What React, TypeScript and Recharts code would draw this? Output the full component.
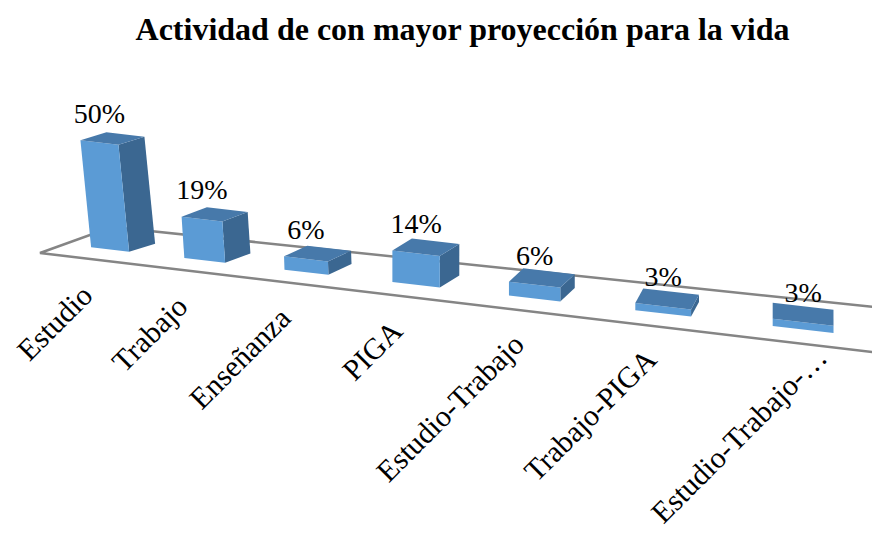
import React from 'react';
import { BarChart, Bar, XAxis, YAxis, LabelList } from 'recharts';

// ---- data ----
const categories = ['Estudio', 'Trabajo', 'Enseñanza', 'PIGA', 'Estudio-Trabajo', 'Trabajo-PIGA', 'Estudio-Trabajo-…'];
const values = [50, 19, 6, 14, 6, 3, 3];
const valueLabels = ['50%', '19%', '6%', '14%', '6%', '3%', '3%'];
const title = 'Actividad de con mayor proyección para la vida';

const data = categories.map((name, i) => ({ name, value: values[i], label: valueLabels[i] }));

// ---- layout / style ----
const W = 872;
const H = 534;
const MARGIN = { top: 100, right: 0, bottom: 190, left: 0 };
const BAND = (W - MARGIN.left - MARGIN.right) / categories.length;
const FONT = "'Times New Roman', 'Liberation Serif', serif";
const FRONT = '#5B9BD5';
const TOP = '#4779AA';
const SIDE = '#3B6791';
const FLOOR = '#858585';

// perspective projection of the band scale output
const X0 = 110;
const KX = 91.3;
const CP = 0.0349;
const slot = (xCenter: number) => (xCenter - MARGIN.left) / BAND - 0.5;
const projX = (t: number) => X0 + (KX * t) / (1 - CP * t);
const depthScale = (t: number) => 1 / (1 - CP * t);
const baseY = (x: number) => 249.5 + 0.1154 * (x - X0);
const depthVec = (t: number) => {
  const u = t / 6;
  return [26 * (1 - u * u), -(8 + 8 * u)];
};

function geom(x: number, width: number, height: number) {
  const t = slot(x + width / 2);
  const s = depthScale(t);
  const cx = projX(t);
  const w = 38 * s * s;
  const h = height * Math.sqrt(s);
  const by = baseY(cx);
  const e = (0.115 * w) / 2;
  const lean = Math.max(0, 0.1 * (1 - t / 3)) * h;
  const BL = [cx - w / 2, by - e];
  const BR = [cx + w / 2, by + e];
  const TL = [BL[0] - lean, BL[1] - h];
  const TR = [BR[0] - lean, BR[1] - h];
  const d = depthVec(t);
  return { t, cx, BL, BR, TL, TR, d };
}

const pts = (arr: number[][]) => arr.map((p) => `${p[0].toFixed(2)},${p[1].toFixed(2)}`).join(' ');

// floor corners (decorative plot floor)
const FLOOR_FL = [40, 253];
const FLOOR_BL = [112, 227];
const FRONT_SLOPE = 0.119;
const BACK_SLOPE = 0.105;

function Floor() {
  const xr = 900;
  const fr = [xr, FLOOR_FL[1] + FRONT_SLOPE * (xr - FLOOR_FL[0])];
  const br = [xr, FLOOR_BL[1] + BACK_SLOPE * (xr - FLOOR_BL[0])];
  return (
    <polyline
      points={pts([fr, FLOOR_FL, FLOOR_BL, br])}
      fill="none"
      stroke={FLOOR}
      strokeWidth={2.5}
      strokeLinejoin="miter"
    />
  );
}

function Box3D(props: any) {
  const { x, width, height, index } = props;
  if (x == null || width == null) return null;
  const g = geom(x, width, height);
  const { BL, BR, TL, TR, d } = g;
  const add = (p: number[]) => [p[0] + d[0], p[1] + d[1]];
  return (
    <g>
      {index === 0 ? <Floor /> : null}
      <polygon points={pts([TR, BR, add(BR), add(TR)])} fill={SIDE} />
      <polygon points={pts([BL, BR, TR, TL])} fill={FRONT} />
      <polygon points={pts([TL, TR, add(TR), add(TL)])} fill={TOP} />
    </g>
  );
}

function ValueLabel(props: any) {
  const vb = props.viewBox || {};
  const x = props.x ?? vb.x;
  const width = props.width ?? vb.width;
  const height = props.height ?? vb.height;
  const index = props.index;
  if (x == null || width == null) return null;
  const g = geom(x, width, height);
  const lx = (g.TL[0] + g.TR[0]) / 2;
  const ly = (g.TL[1] + g.TR[1]) / 2 - 20;
  return (
    <text x={lx} y={ly} textAnchor="middle" fontFamily={FONT} fontSize={28} fill="#000">
      {valueLabels[index] ?? props.value}
    </text>
  );
}

function CategoryTick(props: any) {
  const { x, payload } = props;
  const t = slot(x);
  const cx = projX(t);
  const d = depthVec(t);
  const truncated = String(payload.value).endsWith('…');
  const ax = cx - 0.6 * d[0] + (truncated ? 26 : 0);
  const ay = baseY(cx) + 48 - (truncated ? 18 : 0);
  return (
    <text
      x={ax}
      y={ay}
      textAnchor="end"
      fontFamily={FONT}
      fontSize={30}
      fill="#000"
      transform={`rotate(-45 ${ax} ${ay})`}
    >
      {payload.value}
    </text>
  );
}

export default function App() {
  return (
    <div style={{ position: 'relative', width: W, height: H, background: '#fff' }}>
      <style>{`body{margin:0;background:#fff}`}</style>
      <div
        style={{
          position: 'absolute',
          top: 13,
          left: 462.5,
          transform: 'translateX(-50%)',
          whiteSpace: 'nowrap',
          fontFamily: FONT,
          fontWeight: 'bold',
          fontSize: 32,
          lineHeight: '32px',
          color: '#000',
        }}
      >
        {title}
      </div>
      <BarChart width={W} height={H} data={data} margin={MARGIN}>
        <XAxis
          dataKey="name"
          axisLine={false}
          tickLine={false}
          interval={0}
          height={30}
          tick={(p: any) => <CategoryTick {...p} />}
        />
        <YAxis hide domain={[0, 100]} />
        <Bar dataKey="value" isAnimationActive={false} shape={(p: any) => <Box3D {...p} />}>
          <LabelList dataKey="label" content={(p: any) => <ValueLabel {...p} />} />
        </Bar>
      </BarChart>
    </div>
  );
}
